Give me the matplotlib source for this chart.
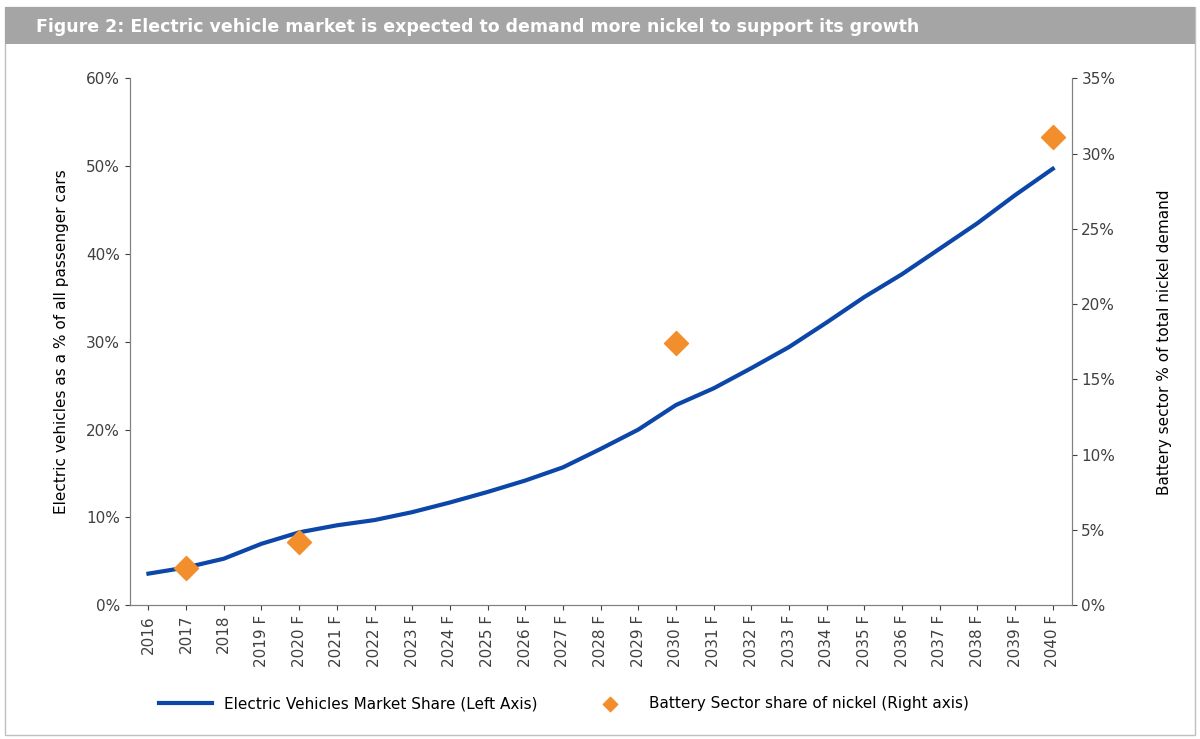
import matplotlib
matplotlib.use("Agg")
import matplotlib.pyplot as plt
from matplotlib.patches import Rectangle

years = ["2016","2017","2018","2019 F","2020 F","2021 F","2022 F","2023 F","2024 F","2025 F","2026 F","2027 F","2028 F","2029 F","2030 F","2031 F","2032 F","2033 F","2034 F","2035 F","2036 F","2037 F","2038 F","2039 F","2040 F"]
ev_share = [3.6,4.3,5.3,7.0,8.3,9.1,9.7,10.6,11.7,12.9,14.2,15.7,17.8,20.0,22.8,24.7,27.0,29.4,32.2,35.1,37.7,40.6,43.5,46.7,49.7]
nickel_years = ["2017","2020 F","2030 F","2040 F"]
nickel_share = [2.5,4.2,17.4,31.1]

fig = plt.figure(figsize=(12,7.39), dpi=100)
fig.patches.append(Rectangle((0.004,0.005),0.992,0.985, transform=fig.transFigure, fill=False, ec="#bfbfbf", lw=1))
fig.patches.append(Rectangle((0.004,0.94),0.992,0.05, transform=fig.transFigure, fc="#a5a5a5", ec="none"))
fig.text(0.03,0.963,"Figure 2: Electric vehicle market is expected to demand more nickel to support its growth",
         color="white", fontsize=12.5, fontweight="bold", va="center")

ax = fig.add_axes([0.108,0.181,0.785,0.713])
x = list(range(len(years)))
l1, = ax.plot(x, ev_share, color="#0b46a8", lw=3)
ax.set_ylim(0,60)
ax.set_xlim(-0.5,len(years)-0.5)
ax.set_yticks(range(0,61,10))
ax.set_yticklabels([f"{v}%" for v in range(0,61,10)])
ax.set_xticks(x)
ax.set_xticklabels(years, rotation=90)
ax.set_ylabel("Electric vehicles as a % of all passenger cars", fontsize=11, labelpad=12)
ax2 = ax.twinx()
nx = [years.index(y) for y in nickel_years]
l2 = ax2.scatter(nx, nickel_share, marker="D", s=150, color="#f28e2b", zorder=3)
ax2.set_ylim(0,35)
ax2.set_yticks(range(0,36,5))
ax2.set_yticklabels([f"{v}%" for v in range(0,36,5)])
ax2.set_ylabel("Battery sector % of total nickel demand", fontsize=11, labelpad=30)
for a in (ax, ax2):
    a.spines["top"].set_visible(False)
    for s in ("left","right","bottom"):
        a.spines[s].set_color("#808080")
    a.tick_params(colors="#404040", labelsize=11)
fig.legend([l1,l2], ["Electric Vehicles Market Share (Left Axis)","Battery Sector share of nickel (Right axis)"],
           loc="center", bbox_to_anchor=(0.47,0.048), ncol=2, frameon=False, fontsize=11, columnspacing=3,
           markerscale=0.6, handlelength=3.5)
fig.savefig("out.png", dpi=100)
